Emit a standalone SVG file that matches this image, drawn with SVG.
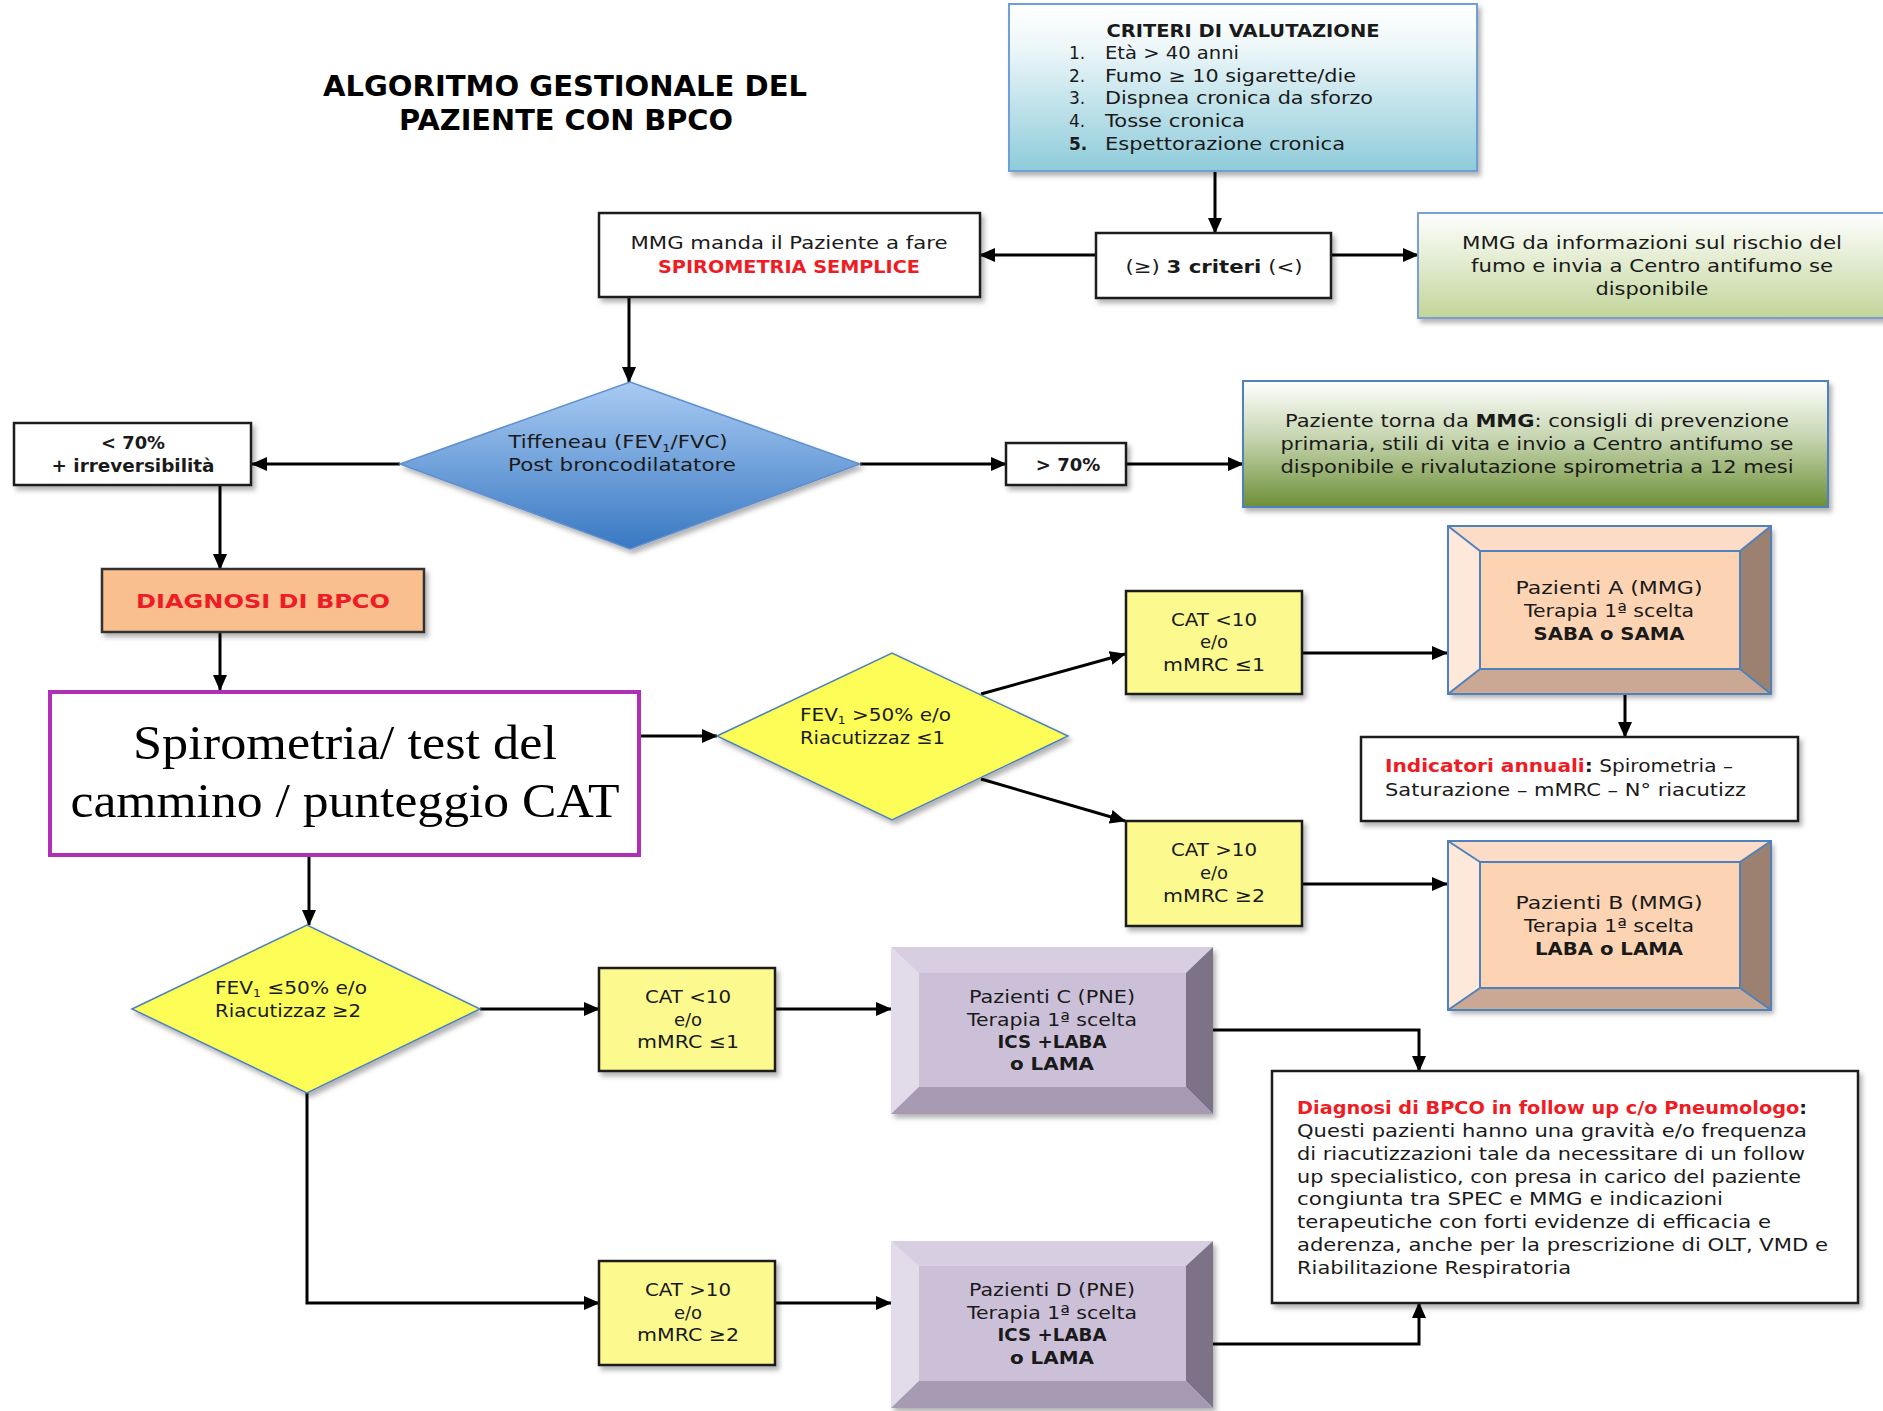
<svg xmlns="http://www.w3.org/2000/svg" width="1883" height="1411" viewBox="0 0 1883 1411">
<defs>
<linearGradient id="gCrit" x1="0" y1="0" x2="0" y2="1"><stop offset="0" stop-color="#ffffff"/><stop offset="0.25" stop-color="#eef7f9"/><stop offset="1" stop-color="#8ecbda"/></linearGradient>
<linearGradient id="gGreen1" x1="0" y1="0" x2="0" y2="1"><stop offset="0" stop-color="#ffffff"/><stop offset="1" stop-color="#c2d59a"/></linearGradient>
<linearGradient id="gGreen2" x1="0" y1="0" x2="0" y2="1"><stop offset="0" stop-color="#ffffff"/><stop offset="0.45" stop-color="#c6d5b0"/><stop offset="1" stop-color="#6d8f36"/></linearGradient>
<linearGradient id="gBlue" x1="0" y1="0" x2="0" y2="1"><stop offset="0" stop-color="#a9cbf3"/><stop offset="1" stop-color="#3878c2"/></linearGradient>
<filter id="sh" x="-10%" y="-10%" width="125%" height="130%"><feDropShadow dx="3" dy="4" stdDeviation="2.5" flood-color="#000" flood-opacity="0.3"/></filter>
<marker id="ar" markerUnits="userSpaceOnUse" markerWidth="16" markerHeight="14" refX="15" refY="7" orient="auto"><path d="M0,0 L16,7 L0,14 z" fill="#000"/></marker>
</defs>
<style>
text{font-family:"DejaVu Sans","Liberation Sans",sans-serif;font-size:18px;fill:#1a1a1a}
.c{text-anchor:middle}
.b{font-weight:bold}
.r{fill:#ee1c25}
.t{font-size:28px;fill:#000}
.s17{font-size:17px}
.s20{font-size:20px}
.sub{font-size:11px}
.box{fill:#fff;stroke:#1a1a1a;stroke-width:2.5}
.yel{fill:#fcf98f;stroke:#1a1a1a;stroke-width:2.5}
.ydia{fill:#fdfd58;stroke:#4f81bd;stroke-width:1.5}
.con{fill:none;stroke:#000;stroke-width:3}
.pk-face{fill:#fcd4b4}.pk-top{fill:#fcdcc6}.pk-left{fill:#fee8da}.pk-right{fill:#9c8170}.pk-bot{fill:#caa893}
.pk-ln{fill:none;stroke:#4f81bd;stroke-width:2}
.pu-face{fill:#cbc0d8}.pu-top{fill:#d7cee2}.pu-left{fill:#e1dbea}.pu-right{fill:#7c7388}.pu-bot{fill:#a79bb3}
.serif{font-family:"Liberation Serif","DejaVu Serif",serif;font-size:48px;fill:#000}
</style>
<rect width="1883" height="1411" fill="#fff"/>

<g id="title">
<text class="c b t" x="565" y="96" textLength="484" lengthAdjust="spacingAndGlyphs">ALGORITMO GESTIONALE DEL</text>
<text class="c b t" x="566" y="130" textLength="334" lengthAdjust="spacingAndGlyphs">PAZIENTE CON BPCO</text>
</g>

<g id="connectors">
<path class="con" d="M1215,171 V233" marker-end="url(#ar)"/>
<path class="con" d="M1096,255 H980" marker-end="url(#ar)"/>
<path class="con" d="M1331,255 H1418" marker-end="url(#ar)"/>
<path class="con" d="M629,297 V382" marker-end="url(#ar)"/>
<path class="con" d="M400,464 H252" marker-end="url(#ar)"/>
<path class="con" d="M860,464 H1006" marker-end="url(#ar)"/>
<path class="con" d="M1126,464 H1243" marker-end="url(#ar)"/>
<path class="con" d="M220,485 V569" marker-end="url(#ar)"/>
<path class="con" d="M220,632 V690" marker-end="url(#ar)"/>
<path class="con" d="M640,736 H717" marker-end="url(#ar)"/>
<path class="con" d="M981,694 L1125,654" marker-end="url(#ar)"/>
<path class="con" d="M981,779 L1125,821" marker-end="url(#ar)"/>
<path class="con" d="M1302,653 H1447" marker-end="url(#ar)"/>
<path class="con" d="M1625,694 V737" marker-end="url(#ar)"/>
<path class="con" d="M1302,884 H1447" marker-end="url(#ar)"/>
<path class="con" d="M309,857 V925" marker-end="url(#ar)"/>
<path class="con" d="M480,1009 H599" marker-end="url(#ar)"/>
<path class="con" d="M775,1009 H891" marker-end="url(#ar)"/>
<path class="con" d="M307,1093 V1303 H599" marker-end="url(#ar)"/>
<path class="con" d="M775,1303 H891" marker-end="url(#ar)"/>
<path class="con" d="M1213,1030 H1419 V1071" marker-end="url(#ar)"/>
<path class="con" d="M1213,1344 H1419 V1303" marker-end="url(#ar)"/>
</g>

<g id="criteri">
<rect x="1009" y="4" width="468" height="167" fill="url(#gCrit)" stroke="#6f9fd8" stroke-width="2" filter="url(#sh)"/>
<text class="c b s17" x="1243" y="37" textLength="273" lengthAdjust="spacingAndGlyphs">CRITERI DI VALUTAZIONE</text>
<text class="s17" x="1069" y="59">1.</text><text class="s17" x="1105" y="59" textLength="134" lengthAdjust="spacingAndGlyphs">Età &gt; 40 anni</text>
<text class="s17" x="1069" y="82">2.</text><text class="s17" x="1105" y="82" textLength="251" lengthAdjust="spacingAndGlyphs">Fumo ≥ 10 sigarette/die</text>
<text class="s17" x="1069" y="104">3.</text><text class="s17" x="1105" y="104" textLength="268" lengthAdjust="spacingAndGlyphs">Dispnea cronica da sforzo</text>
<text class="s17" x="1069" y="127">4.</text><text class="s17" x="1105" y="127" textLength="140" lengthAdjust="spacingAndGlyphs">Tosse cronica</text>
<text class="b s17" x="1069" y="150">5.</text><text class="s17" x="1105" y="150" textLength="240" lengthAdjust="spacingAndGlyphs">Espettorazione cronica</text>
</g>

<g id="tre-criteri">
<rect class="box" x="1096" y="233" width="235" height="65" filter="url(#sh)"/>
<text class="c" x="1214" y="273" textLength="177" lengthAdjust="spacingAndGlyphs">(≥)  <tspan class="b">3 criteri</tspan>   (&lt;)</text>
</g>

<g id="antifumo">
<rect x="1418" y="213" width="475" height="105" fill="url(#gGreen1)" stroke="#7ba0cd" stroke-width="2" filter="url(#sh)"/>
<text class="c" x="1652" y="249" textLength="380" lengthAdjust="spacingAndGlyphs">MMG da informazioni sul rischio del</text>
<text class="c" x="1652" y="272" textLength="362" lengthAdjust="spacingAndGlyphs">fumo e invia a Centro antifumo se</text>
<text class="c" x="1652" y="295" textLength="113" lengthAdjust="spacingAndGlyphs">disponibile</text>
</g>

<g id="spirometria-semplice">
<rect class="box" x="599" y="213" width="381" height="84" filter="url(#sh)"/>
<text class="c" x="789" y="249" textLength="317" lengthAdjust="spacingAndGlyphs">MMG manda il Paziente a fare</text>
<text class="c b r" x="789" y="273" textLength="262" lengthAdjust="spacingAndGlyphs">SPIROMETRIA SEMPLICE</text>
</g>

<g id="tiffeneau">
<polygon points="400,464 630,382 860,464 630,549" fill="url(#gBlue)" stroke="#5f8fd0" stroke-width="1.5" filter="url(#sh)"/>
<text class="c" x="618" y="448" textLength="219" lengthAdjust="spacingAndGlyphs">Tiffeneau (FEV<tspan class="sub" dy="4">1</tspan><tspan dy="-4">/FVC)</tspan></text>
<text class="c" x="622" y="471" textLength="228" lengthAdjust="spacingAndGlyphs">Post broncodilatatore</text>
</g>

<g id="minore70">
<rect class="box" x="14" y="423" width="237" height="62" filter="url(#sh)"/>
<text class="c b" x="133" y="449" textLength="64" lengthAdjust="spacingAndGlyphs">&lt; 70%</text>
<text class="c b" x="133" y="472" textLength="163" lengthAdjust="spacingAndGlyphs">+ irreversibilità</text>
</g>

<g id="maggiore70">
<rect class="box" x="1006" y="443" width="120" height="42" filter="url(#sh)"/>
<text class="c b" x="1068" y="471">&gt; 70%</text>
</g>

<g id="prevenzione">
<rect x="1243" y="381" width="585" height="126" fill="url(#gGreen2)" stroke="#4f81bd" stroke-width="2" filter="url(#sh)"/>
<text class="c" x="1537" y="427" textLength="504" lengthAdjust="spacingAndGlyphs">Paziente torna da <tspan class="b">MMG</tspan>: consigli di prevenzione</text>
<text class="c" x="1537" y="450" textLength="513" lengthAdjust="spacingAndGlyphs">primaria, stili di vita e invio a Centro antifumo se</text>
<text class="c" x="1537" y="473" textLength="513" lengthAdjust="spacingAndGlyphs">disponibile e rivalutazione spirometria a 12 mesi</text>
</g>

<g id="diagnosi">
<rect x="102" y="569" width="322" height="63" fill="#fabf8f" stroke="#333" stroke-width="2.5" filter="url(#sh)"/>
<text class="c b r s20" x="263" y="608" textLength="254" lengthAdjust="spacingAndGlyphs">DIAGNOSI DI BPCO</text>
</g>

<g id="spirometria-cat">
<rect x="50" y="692" width="589" height="163" fill="#fff" stroke="#b12eb6" stroke-width="4"/>
<text class="c serif" x="345" y="759" textLength="424" lengthAdjust="spacingAndGlyphs">Spirometria/ test del</text>
<text class="c serif" x="345" y="817" textLength="549" lengthAdjust="spacingAndGlyphs">cammino / punteggio CAT</text>
</g>

<g id="fev-maggiore50">
<polygon class="ydia" points="717,736 892,653 1068,736 892,820" filter="url(#sh)"/>
<text x="800" y="721" textLength="151" lengthAdjust="spacingAndGlyphs">FEV<tspan class="sub" dy="3">1</tspan><tspan dy="-3"> &gt;50% e/o</tspan></text>
<text x="800" y="744" textLength="145" lengthAdjust="spacingAndGlyphs">Riacutizzaz ≤1</text>
</g>

<g id="cat-a">
<rect class="yel" x="1126" y="591" width="176" height="103" filter="url(#sh)"/>
<text class="c" x="1214" y="626" textLength="86" lengthAdjust="spacingAndGlyphs">CAT &lt;10</text>
<text class="c" x="1214" y="648">e/o</text>
<text class="c" x="1214" y="671" textLength="102" lengthAdjust="spacingAndGlyphs">mMRC ≤1</text>
</g>

<g id="pazienti-a">
<g filter="url(#sh)">
<polygon class="pk-top" points="1448,526 1771,526 1740,551 1480,551"/>
<polygon class="pk-left" points="1448,526 1480,551 1480,669 1448,694"/>
<polygon class="pk-right" points="1771,526 1771,694 1740,669 1740,551"/>
<polygon class="pk-bot" points="1448,694 1480,669 1740,669 1771,694"/>
<rect class="pk-face" x="1480" y="551" width="260" height="118"/>
</g>
<path class="pk-ln" d="M1448,526 H1771 V694 H1448 Z M1480,551 H1740 V669 H1480 Z M1448,526 L1480,551 M1771,526 L1740,551 M1771,694 L1740,669 M1448,694 L1480,669"/>
<text class="c" x="1609" y="594" textLength="187" lengthAdjust="spacingAndGlyphs">Pazienti A (MMG)</text>
<text class="c" x="1609" y="617" textLength="170" lengthAdjust="spacingAndGlyphs">Terapia 1ª scelta</text>
<text class="c b" x="1609" y="640" textLength="151" lengthAdjust="spacingAndGlyphs">SABA o SAMA</text>
</g>

<g id="indicatori">
<rect class="box" x="1361" y="737" width="437" height="84" filter="url(#sh)"/>
<text x="1385" y="772" textLength="348" lengthAdjust="spacingAndGlyphs"><tspan class="b r">Indicatori annuali</tspan><tspan class="b">:</tspan> Spirometria –</text>
<text x="1385" y="796" textLength="361" lengthAdjust="spacingAndGlyphs">Saturazione – mMRC – N° riacutizz</text>
</g>

<g id="cat-b">
<rect class="yel" x="1126" y="821" width="176" height="105" filter="url(#sh)"/>
<text class="c" x="1214" y="856" textLength="86" lengthAdjust="spacingAndGlyphs">CAT &gt;10</text>
<text class="c" x="1214" y="879">e/o</text>
<text class="c" x="1214" y="902" textLength="102" lengthAdjust="spacingAndGlyphs">mMRC ≥2</text>
</g>

<g id="pazienti-b">
<g filter="url(#sh)">
<polygon class="pk-top" points="1448,841 1771,841 1740,862 1480,862"/>
<polygon class="pk-left" points="1448,841 1480,862 1480,988 1448,1010"/>
<polygon class="pk-right" points="1771,841 1771,1010 1740,988 1740,862"/>
<polygon class="pk-bot" points="1448,1010 1480,988 1740,988 1771,1010"/>
<rect class="pk-face" x="1480" y="862" width="260" height="126"/>
</g>
<path class="pk-ln" d="M1448,841 H1771 V1010 H1448 Z M1480,862 H1740 V988 H1480 Z M1448,841 L1480,862 M1771,841 L1740,862 M1771,1010 L1740,988 M1448,1010 L1480,988"/>
<text class="c" x="1609" y="909" textLength="187" lengthAdjust="spacingAndGlyphs">Pazienti B (MMG)</text>
<text class="c" x="1609" y="932" textLength="170" lengthAdjust="spacingAndGlyphs">Terapia 1ª scelta</text>
<text class="c b" x="1609" y="955" textLength="148" lengthAdjust="spacingAndGlyphs">LABA o LAMA</text>
</g>

<g id="fev-minore50">
<polygon class="ydia" points="132,1009 307,925 480,1009 307,1093" filter="url(#sh)"/>
<text x="215" y="994" textLength="152" lengthAdjust="spacingAndGlyphs">FEV<tspan class="sub" dy="3">1</tspan><tspan dy="-3"> ≤50% e/o</tspan></text>
<text x="215" y="1017" textLength="146" lengthAdjust="spacingAndGlyphs">Riacutizzaz ≥2</text>
</g>

<g id="cat-c">
<rect class="yel" x="599" y="968" width="176" height="103" filter="url(#sh)"/>
<text class="c" x="688" y="1003" textLength="86" lengthAdjust="spacingAndGlyphs">CAT &lt;10</text>
<text class="c" x="688" y="1026">e/o</text>
<text class="c" x="688" y="1048" textLength="102" lengthAdjust="spacingAndGlyphs">mMRC ≤1</text>
</g>

<g id="pazienti-c">
<g filter="url(#sh)">
<polygon class="pu-top" points="891,947 1213,947 1186,973 919,973"/>
<polygon class="pu-left" points="891,947 919,973 919,1087 891,1114"/>
<polygon class="pu-right" points="1213,947 1213,1114 1186,1087 1186,973"/>
<polygon class="pu-bot" points="891,1114 919,1087 1186,1087 1213,1114"/>
<rect class="pu-face" x="919" y="973" width="267" height="114"/>
</g>
<text class="c" x="1052" y="1003" textLength="166" lengthAdjust="spacingAndGlyphs">Pazienti C (PNE)</text>
<text class="c" x="1052" y="1026" textLength="170" lengthAdjust="spacingAndGlyphs">Terapia 1ª scelta</text>
<text class="c b" x="1052" y="1048" textLength="109" lengthAdjust="spacingAndGlyphs">ICS +LABA</text>
<text class="c b" x="1052" y="1070" textLength="84" lengthAdjust="spacingAndGlyphs">o LAMA</text>
</g>

<g id="cat-d">
<rect class="yel" x="599" y="1261" width="176" height="104" filter="url(#sh)"/>
<text class="c" x="688" y="1296" textLength="86" lengthAdjust="spacingAndGlyphs">CAT &gt;10</text>
<text class="c" x="688" y="1319">e/o</text>
<text class="c" x="688" y="1341" textLength="102" lengthAdjust="spacingAndGlyphs">mMRC ≥2</text>
</g>

<g id="pazienti-d">
<g filter="url(#sh)">
<polygon class="pu-top" points="891,1241 1213,1241 1186,1266 919,1266"/>
<polygon class="pu-left" points="891,1241 919,1266 919,1381 891,1408"/>
<polygon class="pu-right" points="1213,1241 1213,1408 1186,1381 1186,1266"/>
<polygon class="pu-bot" points="891,1408 919,1381 1186,1381 1213,1408"/>
<rect class="pu-face" x="919" y="1266" width="267" height="115"/>
</g>
<text class="c" x="1052" y="1296" textLength="166" lengthAdjust="spacingAndGlyphs">Pazienti D (PNE)</text>
<text class="c" x="1052" y="1319" textLength="170" lengthAdjust="spacingAndGlyphs">Terapia 1ª scelta</text>
<text class="c b" x="1052" y="1341" textLength="109" lengthAdjust="spacingAndGlyphs">ICS +LABA</text>
<text class="c b" x="1052" y="1364" textLength="84" lengthAdjust="spacingAndGlyphs">o LAMA</text>
</g>

<g id="follow-up">
<rect class="box" x="1272" y="1071" width="586" height="232" filter="url(#sh)"/>
<text x="1297" y="1114" textLength="510" lengthAdjust="spacingAndGlyphs"><tspan class="b r">Diagnosi di BPCO in follow up c/o Pneumologo</tspan><tspan class="b">:</tspan></text>
<text x="1297" y="1137" textLength="510" lengthAdjust="spacingAndGlyphs">Questi pazienti hanno una gravità e/o frequenza</text>
<text x="1297" y="1160" textLength="508" lengthAdjust="spacingAndGlyphs">di riacutizzazioni tale da necessitare di un follow</text>
<text x="1297" y="1183" textLength="504" lengthAdjust="spacingAndGlyphs">up specialistico, con presa in carico del paziente</text>
<text x="1297" y="1205" textLength="426" lengthAdjust="spacingAndGlyphs">congiunta tra SPEC e MMG e indicazioni</text>
<text x="1297" y="1228" textLength="474" lengthAdjust="spacingAndGlyphs">terapeutiche con forti evidenze di efficacia  e</text>
<text x="1297" y="1251" textLength="531" lengthAdjust="spacingAndGlyphs">aderenza, anche per la prescrizione di OLT, VMD e</text>
<text x="1297" y="1274" textLength="274" lengthAdjust="spacingAndGlyphs">Riabilitazione Respiratoria</text>
</g>
</svg>
